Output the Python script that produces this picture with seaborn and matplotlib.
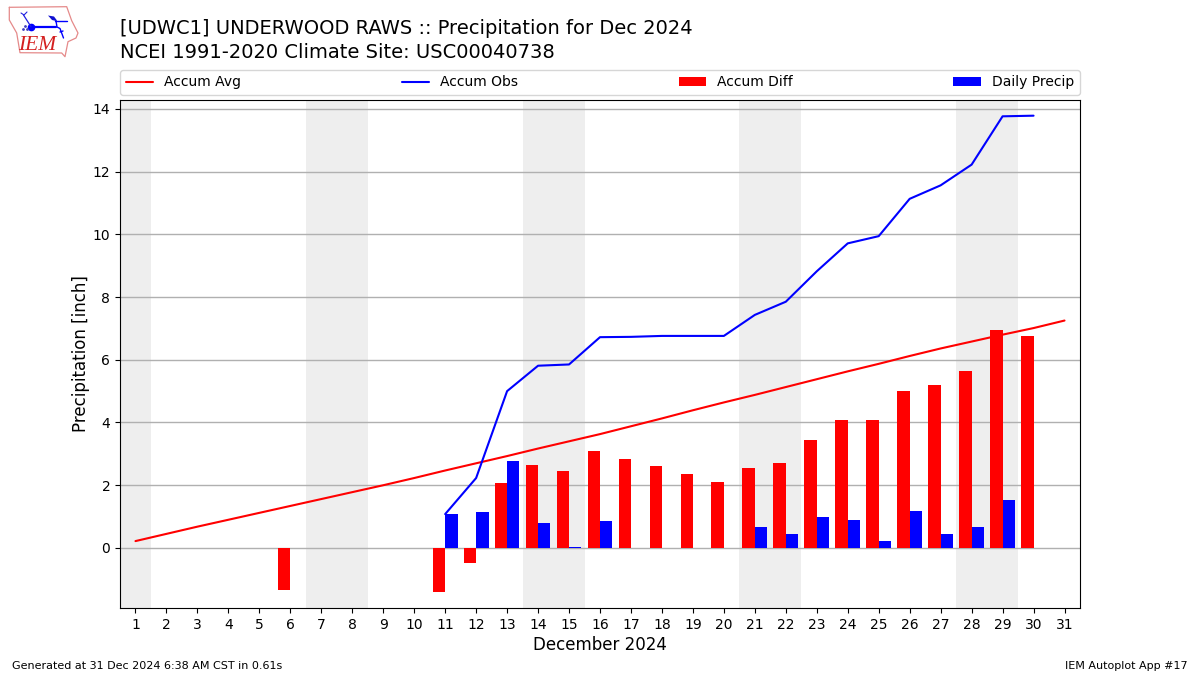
import numpy as np
import pandas as pd
import seaborn as sns
import matplotlib
matplotlib.use("Agg")
import matplotlib.pyplot as plt

days = list(range(1, 32))
accum_avg = [0.22, 0.45, 0.68, 0.90, 1.12, 1.34, 1.56, 1.78, 2.00, 2.23, 2.47,
             2.70, 2.93, 3.17, 3.40, 3.63, 3.88, 4.13, 4.39, 4.64, 4.88, 5.13,
             5.38, 5.63, 5.87, 6.12, 6.36, 6.58, 6.80, 7.01, 7.25]
obs_days = list(range(11, 31))
accum_obs = [1.08, 2.23, 5.00, 5.81, 5.85, 6.72, 6.73, 6.76, 6.76, 6.76,
             7.43, 7.85, 8.82, 9.71, 9.94, 11.13, 11.56, 12.22, 13.76, 13.78]
diff_days = [6] + obs_days
accum_diff = [-1.33, -1.40, -0.48, 2.07, 2.65, 2.46, 3.09, 2.84, 2.62, 2.36, 2.11,
              2.55, 2.71, 3.44, 4.08, 4.08, 5.00, 5.20, 5.64, 6.96, 6.77]
precip_days = [11, 12, 13, 14, 15, 16, 21, 22, 23, 24, 25, 26, 27, 28, 29]
daily_precip = [1.08, 1.15, 2.77, 0.80, 0.03, 0.86, 0.67, 0.43, 1.00, 0.90,
                0.23, 1.19, 0.43, 0.68, 1.54]
weekend_spans = [(0.5, 1.5), (6.5, 8.5), (13.5, 15.5), (20.5, 22.5), (27.5, 29.5)]
y_ticks = [0, 2, 4, 6, 8, 10, 12, 14]

title = ("[UDWC1] UNDERWOOD RAWS :: Precipitation for Dec 2024\n"
         "NCEI 1991-2020 Climate Site: USC00040738")
footer_left = "Generated at 31 Dec 2024 6:38 AM CST in 0.61s"
footer_right = "IEM Autoplot App #17"

sns.set_style("white")
plt.rcParams.update({
    "font.family": ["DejaVu Sans"],
    "axes.edgecolor": "black", "text.color": "black", "axes.labelcolor": "black",
    "xtick.color": "black", "ytick.color": "black",
    "xtick.bottom": True, "ytick.left": True,
})

bars = pd.concat([
    pd.DataFrame({"day": diff_days, "value": accum_diff, "series": "Accum Diff"}),
    pd.DataFrame({"day": precip_days, "value": daily_precip, "series": "Daily Precip"}),
])

fig = plt.figure(figsize=(12, 6.75), dpi=100)
ax = fig.add_axes([120 / 1200, 1 - 608 / 675, 960 / 1200, 508 / 675])

for a, b in weekend_spans:
    ax.axvspan(a, b, color="#eeeeee", lw=0, zorder=0)

sns.barplot(data=bars, x="day", y="value", hue="series",
            hue_order=["Accum Diff", "Daily Precip"],
            palette={"Accum Diff": "red", "Daily Precip": "blue"},
            native_scale=True, width=0.8, gap=0, dodge=True, errorbar=None,
            saturation=1, linewidth=0, ax=ax, zorder=3)
sns.lineplot(x=days, y=accum_avg, color="red", lw=1.5, label="Accum Avg", ax=ax, zorder=4)
sns.lineplot(x=obs_days, y=accum_obs, color="blue", lw=1.5, label="Accum Obs", ax=ax, zorder=4)

ax.set_xlim(0.5, 31.5)
ax.set_ylim(-1.913, 14.28)
ax.set_xticks(days)
ax.set_xticklabels([str(d) for d in days])
ax.set_yticks(y_ticks)
ax.tick_params(axis="both", labelsize=10, length=3.5, width=0.8, pad=3.5)
ax.grid(False)
ax.grid(True, axis="y", color="#b0b0b0", lw=1.0, zorder=1)
ax.set_axisbelow(True)
for s in ax.spines.values():
    s.set_visible(True)
    s.set_linewidth(0.8)
    s.set_color("black")
ax.set_xlabel("December 2024", fontsize=12, labelpad=3)
ax.set_ylabel("Precipitation [inch]", fontsize=12, labelpad=2)

handles, labels = ax.get_legend_handles_labels()
lookup = dict(zip(labels, handles))
order = ["Accum Avg", "Accum Obs", "Accum Diff", "Daily Precip"]
ax.legend([lookup[k] for k in order], order, ncol=4, mode="expand",
          loc="lower left", bbox_to_anchor=(0, 1.0 + 5 / 508, 1, 0.045),
          borderaxespad=0, fontsize=10, frameon=True)

fig.text(120 / 1200, 1 - 62 / 675, title, fontsize=14, ha="left", va="bottom", linespacing=1.3)
fig.text(12 / 1200, 1 - 671 / 675, footer_left, fontsize=8, ha="left", va="bottom")
fig.text(1188 / 1200, 1 - 671 / 675, footer_right, fontsize=8, ha="right", va="bottom")

# Logo: simple sketch, in figure pixel coordinates
logo = fig.add_axes([0, 1 - 60 / 675, 90 / 1200, 60 / 675])
logo.set_xlim(0, 90)
logo.set_ylim(60, 0)
logo.axis("off")
outline_x = [9.3, 66.7, 71.7, 78, 76, 68, 65, 61.7, 20, 16.7, 9.3, 9.3]
outline_y = [7.3, 6.7, 20.7, 33, 38, 41.7, 56.7, 53, 52.7, 33, 20, 7.3]
logo.plot(outline_x, outline_y, color="#e58a8a", lw=0.9)
logo.plot([31, 56], [26.7, 26.7], color="blue", lw=1.6)
logo.plot([31], [26.7], "o", color="blue", ms=4.5)
logo.fill([48, 54, 57, 56, 52], [15.5, 16.5, 20.5, 21, 20], color="#1010d0", lw=0)
logo.plot([55, 67], [20.7, 20.7], color="blue", lw=1.0)
logo.plot([56, 57, 60, 63.5], [21, 27, 28.5, 38], color="blue", lw=1.0)
logo.plot([60, 63], [32, 31], color="blue", lw=1.0)
logo.plot([31, 23.5], [26.7, 15], color="#2020e0", lw=0.9)
logo.plot([21, 24, 27], [13, 15, 12], color="#2020e0", lw=0.8)
logo.plot([23, 25, 27], [29, 26, 29], "o", color="#4040c0", ms=1.0)
logo.text(37.5, 45, "IEM", family="Liberation Serif", style="italic", color="#d42020",
          fontsize=15.5, ha="center", va="center")

fig.savefig("out.png", dpi=100)
